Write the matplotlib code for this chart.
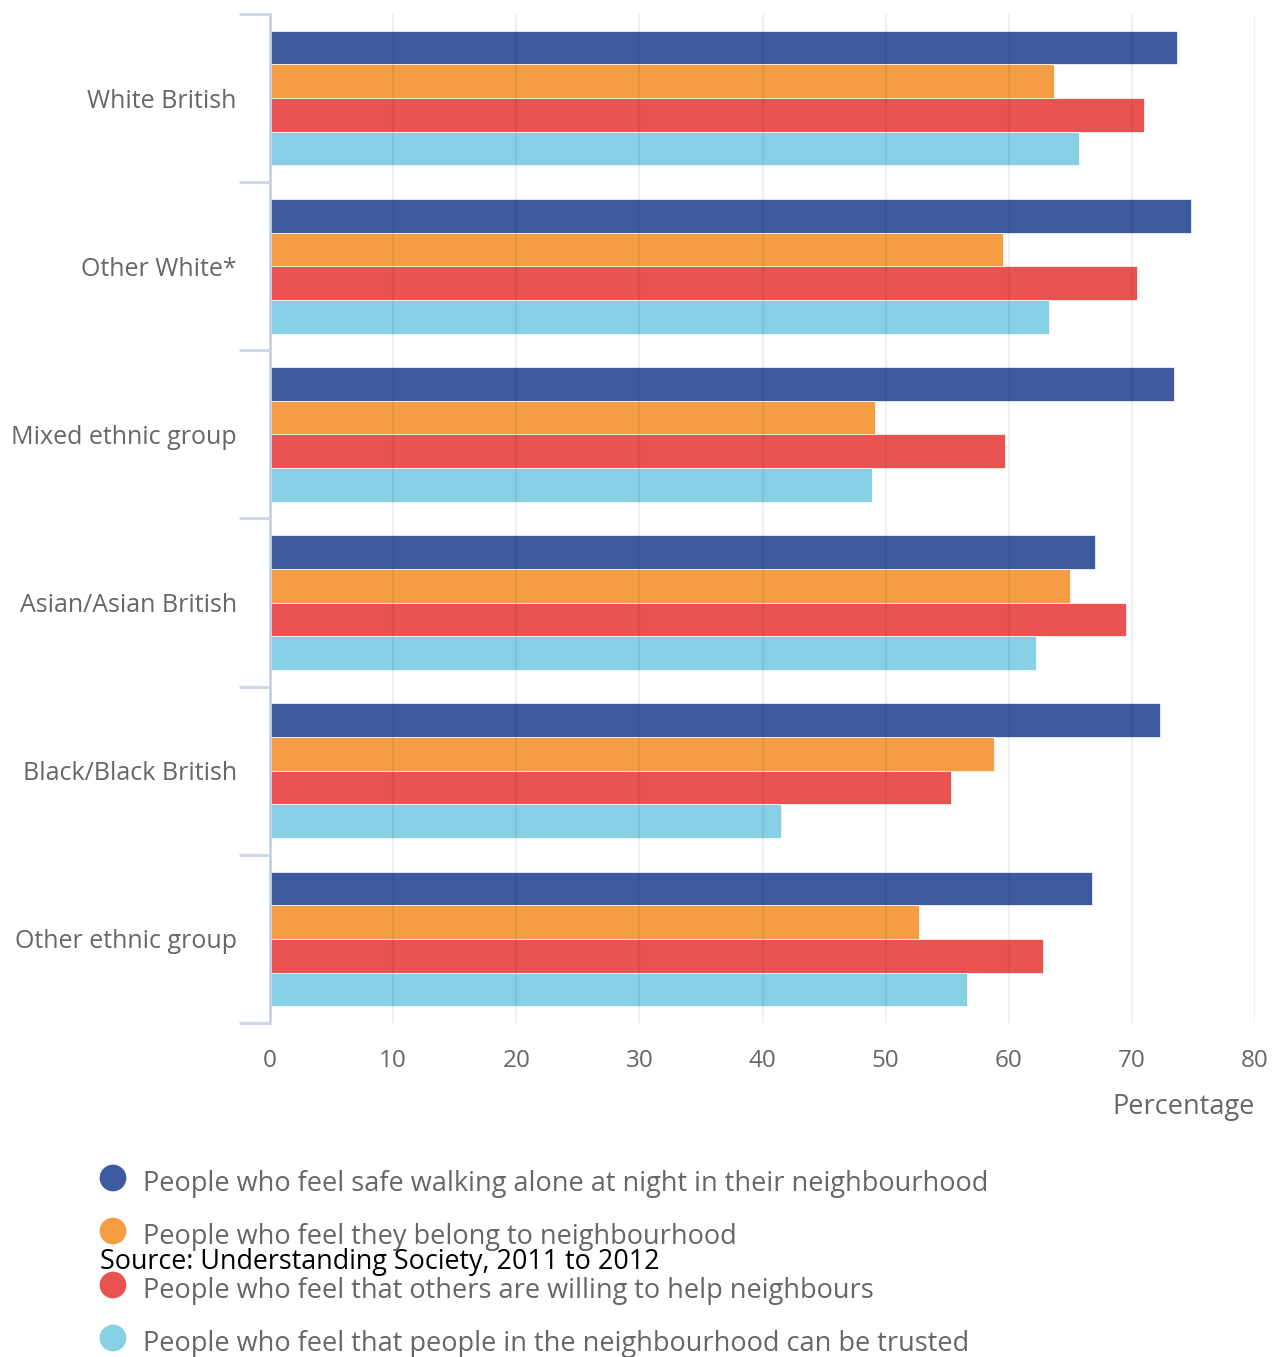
import numpy as np
import matplotlib
matplotlib.use("Agg")
import matplotlib.pyplot as plt

plt.rcParams['font.family'] = ['Open Sans', 'DejaVu Sans']

###  Data
groups = ["White British", "Other White*", "Mixed ethnic group",
          "Asian/Asian British", "Black/Black British", "Other ethnic group"]
safe = [73.7, 74.8, 73.4, 67.0, 72.3, 66.8]
belong = [63.7, 59.5, 49.1, 65.0, 58.8, 52.7]
helpful = [71.0, 70.4, 59.7, 69.5, 55.3, 62.8]
trusted = [65.7, 63.3, 48.9, 62.2, 41.5, 56.6]
series_names = ["People who feel safe walking alone at night in their neighbourhood",
                "People who feel they belong to neighbourhood",
                "People who feel that others are willing to help neighbours",
                "People who feel that people in the neighbourhood can be trusted"]
colors = ["#3d5a9f", "#f59d42", "#e85352", "#87cfe4"]
xticks = [0, 10, 20, 30, 40, 50, 60, 70, 80]

W, H = 1279, 1357
fig = plt.figure(figsize=(W / 100, H / 100), dpi=100)
ax = fig.add_axes([270 / W, 1 - 1023 / H, (1255 - 270) / W, (1023 - 14) / H])

y = np.arange(len(groups))
h = 0.2
offsets = [-0.3, -0.1, 0.1, 0.3]
for vals, off, c in zip([safe, belong, helpful, trusted], offsets, colors):
    ax.barh(y + off, vals, height=h, color=c, edgecolor="white", linewidth=0.5, zorder=2)

ax.set_xlim(0, 80)
ax.set_ylim(len(groups) - 0.5, -0.5)
ax.set_xticks(xticks)
ax.set_xticklabels([str(t) for t in xticks])
ax.set_yticks(y)
ax.set_yticklabels(groups)
ax.set_yticks(np.arange(-0.5, len(groups)), minor=True)

ax.grid(axis="x", color="black", linewidth=1.5, alpha=0.06, zorder=3)
ax.set_axisbelow(False)

for s in ["top", "right", "bottom"]:
    ax.spines[s].set_visible(False)
ax.spines["left"].set_color("#ccd6eb")
ax.spines["left"].set_linewidth(2)

ax.tick_params(axis="x", length=0, pad=19, labelsize=17.5, labelcolor="#666666")
ax.tick_params(axis="y", which="major", length=0, pad=24, labelsize=18, labelcolor="#666666")
ax.tick_params(axis="y", which="minor", length=22, width=2, color="#ccd6eb")

fig.text(1255 / W, 1 - 1107 / H, "Percentage", ha="right", va="center",
         fontsize=19.5, color="#666666")

# legend drawn in pixel space
ov = fig.add_axes([0, 0, 1, 1], facecolor="none")
ov.set_xlim(0, W)
ov.set_ylim(H, 0)
ov.axis("off")
leg_y = [1184, 1237, 1291, 1344]
for ly, c, name in zip(leg_y, colors, series_names):
    ov.scatter([113], [ly - 6], s=370, color=c, edgecolors="none")
    ov.text(143, ly, name, ha="left", va="center", fontsize=19.5, color="#666666")

ov.text(100, 1262, "Source: Understanding Society, 2011 to 2012", ha="left", va="center",
        fontsize=19.4, color="black")

fig.savefig("out.png", dpi=100)
